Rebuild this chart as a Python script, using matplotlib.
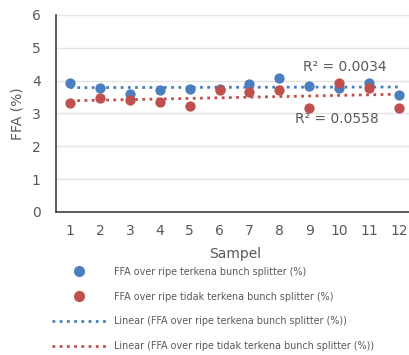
import numpy as np
import matplotlib
matplotlib.use("Agg")
import matplotlib.pyplot as plt
from matplotlib.lines import Line2D

samples = list(range(1, 13))
ffa_terkena = [3.94, 3.77, 3.58, 3.70, 3.74, 3.74, 3.90, 4.09, 3.82, 3.77, 3.94, 3.56]
ffa_tidak = [3.31, 3.46, 3.41, 3.34, 3.23, 3.70, 3.65, 3.70, 3.17, 3.92, 3.77, 3.16]
r2_labels = ["R² = 0.0034", "R² = 0.0558"]
series_names = ["FFA over ripe terkena bunch splitter (%)",
                "FFA over ripe tidak terkena bunch splitter (%)"]

blue = "#4a7ebf"
red = "#c0504d"
gray = "#595959"

fig = plt.figure(figsize=(4.09, 3.55), dpi=100)
ax = fig.add_axes([0.137, 0.403, 0.875, 0.555])

x = np.array(samples)
for vals, c in [(ffa_terkena, blue), (ffa_tidak, red)]:
    ax.scatter(x, vals, s=55, color=c, zorder=3, linewidths=0)
for vals, c in [(ffa_terkena, blue), (ffa_tidak, red)]:
    p = np.polyfit(x, vals, 1)
    xx = np.array([1, 12])
    ax.plot(xx, np.polyval(p, xx), linestyle=(0, (1, 1.6)), color=c, lw=2.0, zorder=2)

ax.set_xlim(0.53, 12.5)
ax.set_ylim(0, 6)
ax.set_yticks(range(0, 7))
ax.set_xticks(samples)
ax.grid(axis="y", color="#e3e3e3", lw=1)
ax.set_axisbelow(True)
for s in ["top", "right"]:
    ax.spines[s].set_visible(False)
ax.spines["left"].set_color("#404040")
ax.spines["bottom"].set_color("#404040")
ax.spines["left"].set_linewidth(1.2)
ax.spines["bottom"].set_linewidth(1.2)
ax.tick_params(length=0, labelsize=10, colors=gray)
ax.tick_params(axis="x", pad=9)
ax.tick_params(axis="y", pad=11)
ax.set_ylabel("FFA (%)", fontsize=10, color=gray, labelpad=5)
ax.set_xlabel("Sampel", fontsize=10, color=gray, labelpad=6)

ax.text(10.2, 4.42, r2_labels[0], fontsize=10, color=gray, ha="center", va="center")
ax.text(9.93, 2.83, r2_labels[1], fontsize=10, color=gray, ha="center", va="center")

handles = [
    Line2D([], [], marker="o", linestyle="none", color=blue, markersize=7),
    Line2D([], [], marker="o", linestyle="none", color=red, markersize=7),
    Line2D([], [], linestyle=(0, (1, 1.6)), color=blue, lw=2.0),
    Line2D([], [], linestyle=(0, (1, 1.6)), color=red, lw=2.0),
]
labels = series_names + ["Linear (" + n + ")" for n in series_names]
leg = fig.legend(handles, labels, loc="upper left", bbox_to_anchor=(0.105, 0.273),
                 frameon=False, fontsize=6.9, labelspacing=1.55, handlelength=5.7,
                 handletextpad=0.85, labelcolor=gray)

fig.savefig("out.png", dpi=100)
